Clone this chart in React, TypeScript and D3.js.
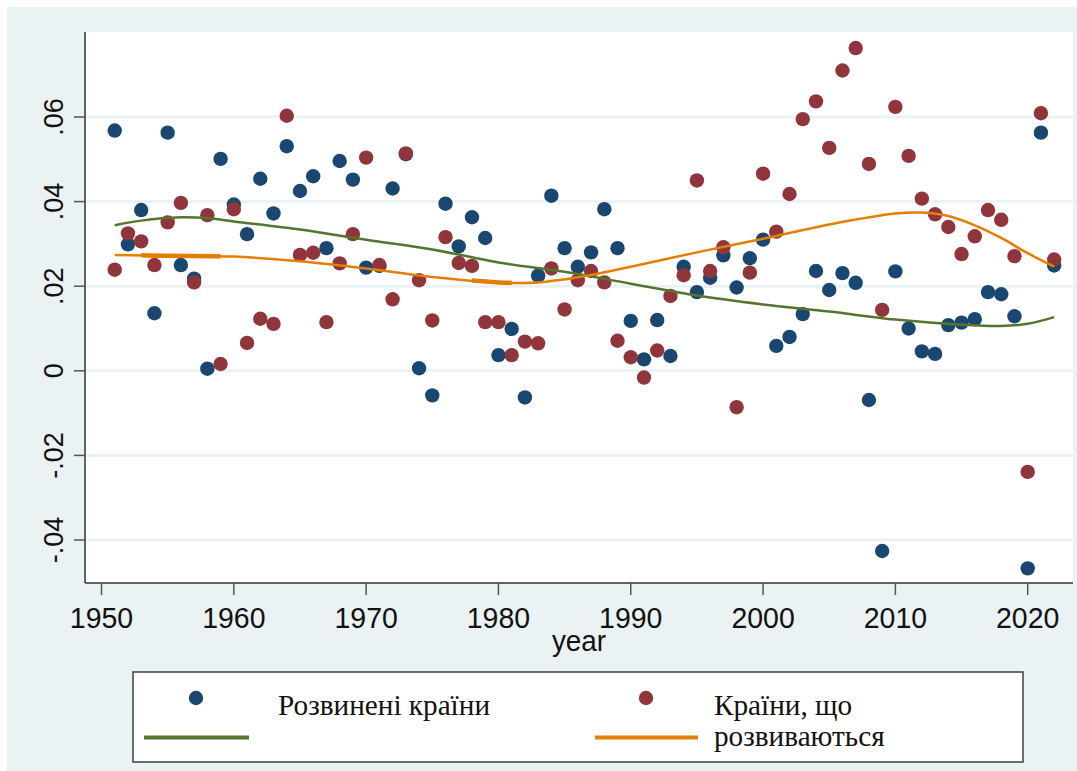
import React from 'react';
import * as d3 from 'd3';

// years on the x axis
const years = d3.range(1951, 2023);

// scatter: developed countries (blue)
const developed = [
  0.0568, 0.0299, 0.038, 0.0136, 0.0563, 0.025, 0.0218, 0.0005, 0.0501, 0.0393,
  0.0323, 0.0454, 0.0372, 0.0531, 0.0425, 0.046, 0.029, 0.0496, 0.0452, 0.0244,
  0.0248, 0.0431, 0.0512, 0.0006, -0.0058, 0.0395, 0.0294, 0.0363, 0.0314, 0.0037,
  0.0099, -0.0063, 0.0225, 0.0414, 0.029, 0.0246, 0.028, 0.0382, 0.029, 0.0118,
  0.0027, 0.012, 0.0035, 0.0246, 0.0186, 0.022, 0.0273, 0.0197, 0.0266, 0.031,
  0.0059, 0.008, 0.0134, 0.0236, 0.0191, 0.0231, 0.0208, -0.0069, -0.0426, 0.0235,
  0.01, 0.0046, 0.004, 0.0108, 0.0114, 0.0122, 0.0186, 0.0181, 0.0129, -0.0467,
  0.0563, 0.0249,
];

// scatter: developing countries (red)
const developing = [
  0.0239, 0.0325, 0.0306, 0.025, 0.0351, 0.0397, 0.0209, 0.0368, 0.0016, 0.0382,
  0.0066, 0.0123, 0.0111, 0.0603, 0.0274, 0.0279, 0.0115, 0.0254, 0.0323, 0.0504,
  0.025, 0.0169, 0.0514, 0.0214, 0.0119, 0.0316, 0.0255, 0.0248, 0.0115, 0.0115,
  0.0037, 0.0069, 0.0065, 0.0242, 0.0145, 0.0214, 0.0236, 0.0209, 0.0071, 0.0032,
  -0.0016, 0.0048, 0.0177, 0.0226, 0.045, 0.0236, 0.0292, -0.0086, 0.0232, 0.0466,
  0.0329, 0.0418, 0.0595, 0.0637, 0.0527, 0.071, 0.0763, 0.0489, 0.0144, 0.0624,
  0.0508, 0.0407, 0.037, 0.034, 0.0276, 0.0318, 0.038, 0.0357, 0.0271, -0.0239,
  0.0609, 0.0263,
];

// fitted lines
const greenFitYears = [1951, 1953, 1956, 1958, 1960, 1965, 1970, 1975, 1980, 1985, 1990, 1995, 2000, 2005, 2010, 2015, 2018, 2020, 2022];
const greenFit = [0.0344, 0.0355, 0.0363, 0.0361, 0.0353, 0.0334, 0.031, 0.0287, 0.0256, 0.0234, 0.0206, 0.0178, 0.0157, 0.014, 0.0121, 0.0109, 0.0106, 0.0111, 0.0127];

const orangeFitYears = [1951, 1955, 1960, 1965, 1970, 1975, 1980, 1983, 1986, 1990, 1995, 2000, 2005, 2010, 2012, 2014, 2016, 2018, 2020, 2022];
const orangeFit = [0.0274, 0.0272, 0.027, 0.0259, 0.0242, 0.0222, 0.0209, 0.0209, 0.0221, 0.0246, 0.028, 0.0312, 0.0346, 0.0372, 0.0374, 0.0366, 0.0344, 0.0314, 0.0278, 0.0246];

// spans where the fitted orange line is drawn heavier
const orangeThick = [[1953, 1959], [1978, 1981]];

const xTicks = [1950, 1960, 1970, 1980, 1990, 2000, 2010, 2020];
const yTicks = [0.06, 0.04, 0.02, 0, -0.02, -0.04];
const yTickLabels = ['.06', '.04', '.02', '0', '-.02', '-.04'];

const BLUE = '#1a476f';
const RED = '#90353b';
const GREEN = '#55752f';
const ORANGE = '#e37e00';
const BG = '#eaf2f3';

const App = () => {
  const width = 1077;
  const height = 771;
  const plot = { left: 85, right: 1073, top: 32, bottom: 583 };

  const x = d3.scaleLinear().domain([1950, 2020]).range([101.5, 1027.7]);
  const y = d3.scaleLinear().domain([0.06, -0.04]).range([117, 540]);

  const fitLine = d3.line<[number, number]>()
    .x(d => x(d[0]))
    .y(d => y(d[1]))
    .curve(d3.curveCatmullRom);

  const greenPts: [number, number][] = greenFitYears.map((yr, i) => [yr, greenFit[i]]);
  const orangePts: [number, number][] = orangeFitYears.map((yr, i) => [yr, orangeFit[i]]);
  const orangePath = fitLine(orangePts) || '';

  const axisFont = '"Liberation Sans", Arial, sans-serif';
  const serif = '"Liberation Serif", "Times New Roman", serif';

  return (
    <svg width={width} height={height} style={{ position: 'absolute', left: 0, top: 0 }}>
      <defs>
        {orangeThick.map(([a, b], i) => (
          <clipPath id={`thick${i}`} key={i}>
            <rect x={x(a)} y={plot.top} width={x(b) - x(a)} height={plot.bottom - plot.top} />
          </clipPath>
        ))}
      </defs>
      <rect x={0} y={0} width={width} height={height} fill="#fff" />
      <rect x={7} y={7} width={width - 7} height={height - 7} fill={BG} />
      <rect x={plot.left} y={plot.top} width={plot.right - plot.left} height={plot.bottom - plot.top} fill="#fff" />

      {/* grid */}
      {yTicks.map(t => (
        <line key={t} x1={plot.left} x2={plot.right} y1={y(t)} y2={y(t)} stroke={BG} strokeWidth={3} />
      ))}

      {/* dots */}
      {years.map((yr, i) => (
        <circle key={`b${yr}`} cx={x(yr)} cy={y(developed[i])} r={7.2} fill={BLUE} />
      ))}
      {years.map((yr, i) => (
        <circle key={`r${yr}`} cx={x(yr)} cy={y(developing[i])} r={7.2} fill={RED} />
      ))}

      {/* fitted lines */}
      <path d={fitLine(greenPts) || ''} fill="none" stroke={GREEN} strokeWidth={2.5} />
      <path d={orangePath} fill="none" stroke={ORANGE} strokeWidth={2.5} />
      {orangeThick.map((_, i) => (
        <path key={i} d={orangePath} fill="none" stroke={ORANGE} strokeWidth={4.5} clipPath={`url(#thick${i})`} />
      ))}

      {/* axes */}
      <line x1={plot.left} x2={plot.left} y1={plot.top} y2={plot.bottom} stroke="#333" strokeWidth={1.5} />
      <line x1={plot.left} x2={plot.right} y1={plot.bottom} y2={plot.bottom} stroke="#333" strokeWidth={1.5} />
      {yTicks.map((t, i) => (
        <g key={t}>
          <line x1={plot.left - 11} x2={plot.left} y1={y(t)} y2={y(t)} stroke="#555" strokeWidth={1.5} />
          <text transform={`translate(63,${y(t)}) rotate(-90)`} textAnchor="middle"
            fontFamily={axisFont} fontSize={27} fill="#111">{yTickLabels[i]}</text>
        </g>
      ))}
      {xTicks.map(t => (
        <g key={t}>
          <line x1={x(t)} x2={x(t)} y1={plot.bottom} y2={plot.bottom + 12} stroke="#555" strokeWidth={1.5} />
          <text transform={`translate(${x(t)},628) scale(0.95,1)`} textAnchor="middle"
            fontFamily={axisFont} fontSize={30} fill="#111">{t}</text>
        </g>
      ))}
      <text transform={`translate(${(plot.left + plot.right) / 2},651) scale(0.93,1)`} textAnchor="middle"
        fontFamily={axisFont} fontSize={30} fill="#111">year</text>

      {/* legend */}
      <rect x={133} y={672} width={890} height={90} fill="#fff" stroke="#404040" strokeWidth={1.5} />
      <circle cx={196} cy={698} r={7.2} fill={BLUE} />
      <line x1={144} x2={249} y1={737.5} y2={737.5} stroke={GREEN} strokeWidth={4} />
      <text transform="translate(278,715) scale(0.975,1)" fontFamily={serif} fontSize={30} fill="#111">Розвинені країни</text>
      <circle cx={646} cy={698} r={7.2} fill={RED} />
      <line x1={595} x2={698} y1={737.5} y2={737.5} stroke={ORANGE} strokeWidth={4} />
      <text transform="translate(714,715) scale(0.975,1)" fontFamily={serif} fontSize={30} fill="#111">Країни, що</text>
      <text transform="translate(714,746) scale(0.975,1)" fontFamily={serif} fontSize={30} fill="#111">розвиваються</text>
    </svg>
  );
};

export default App;
